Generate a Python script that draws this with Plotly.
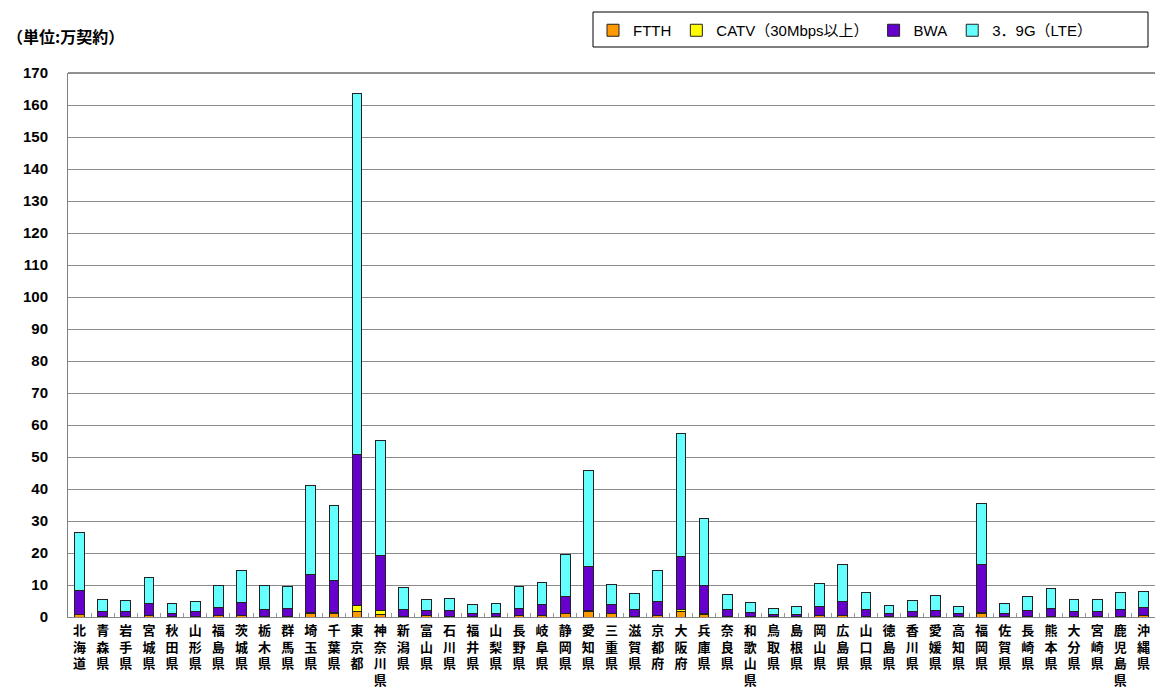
import plotly.graph_objects as go

prefectures = ["北海道", "青森県", "岩手県", "宮城県", "秋田県", "山形県", "福島県", "茨城県", "栃木県", "群馬県",
               "埼玉県", "千葉県", "東京都", "神奈川県", "新潟県", "富山県", "石川県", "福井県", "山梨県", "長野県",
               "岐阜県", "静岡県", "愛知県", "三重県", "滋賀県", "京都府", "大阪府", "兵庫県", "奈良県", "和歌山県",
               "鳥取県", "島根県", "岡山県", "広島県", "山口県", "徳島県", "香川県", "愛媛県", "高知県", "福岡県",
               "佐賀県", "長崎県", "熊本県", "大分県", "宮崎県", "鹿児島県", "沖縄県"]

ftth = [0.8, 0.2, 0.2, 0.4, 0.1, 0.2, 0.5, 0.6, 0.3, 0.3,
        1.2, 1.1, 1.6, 0.9, 0.3, 0.4, 0.3, 0.2, 0.2, 0.5,
        0.6, 1.0, 1.8, 1.1, 0.2, 0.4, 1.6, 0.9, 0.2, 0.2,
        0.1, 0.1, 0.4, 0.5, 0.2, 0.1, 0.2, 0.3, 0.1, 1.0,
        0.1, 0.2, 0.3, 0.2, 0.2, 0.3, 0.4]
catv = [0.1, 0.0, 0.0, 0.0, 0.0, 0.0, 0.0, 0.0, 0.0, 0.0,
        0.3, 0.3, 1.9, 1.2, 0.0, 0.0, 0.0, 0.0, 0.0, 0.0,
        0.0, 0.0, 0.2, 0.0, 0.0, 0.0, 0.8, 0.3, 0.0, 0.0,
        0.0, 0.0, 0.0, 0.0, 0.0, 0.0, 0.0, 0.0, 0.0, 0.5,
        0.0, 0.0, 0.0, 0.0, 0.0, 0.0, 0.0]
bwa = [7.5, 1.6, 1.4, 3.7, 1.0, 1.4, 2.6, 3.8, 2.2, 2.4,
       11.8, 10.1, 47.2, 17.2, 2.0, 1.5, 1.6, 0.9, 0.9, 2.3,
       3.2, 5.5, 13.8, 2.7, 2.0, 4.5, 16.6, 8.7, 2.1, 1.2,
       0.6, 0.7, 2.8, 4.5, 2.2, 0.9, 1.5, 1.8, 1.0, 14.9,
       1.0, 1.7, 2.4, 1.5, 1.6, 1.9, 2.5]
lte = [18.1, 3.7, 3.7, 8.4, 3.1, 3.2, 6.8, 10.0, 7.2, 6.9,
       27.7, 23.2, 112.8, 35.9, 7.0, 3.5, 3.9, 2.8, 3.0, 6.8,
       7.0, 13.1, 29.9, 6.3, 5.0, 9.7, 38.3, 20.9, 4.8, 3.2,
       2.0, 2.5, 7.2, 11.4, 5.2, 2.5, 3.5, 4.7, 2.3, 19.1,
       3.1, 4.6, 6.3, 3.7, 3.7, 5.6, 5.2]

series_names = ["FTTH", "CATV（30Mbps以上）", "BWA", "3．9G（LTE）"]
series_colors = ["#FF9900", "#FFFF00", "#6600CC", "#66FFFF"]

tick_text = ["<br>".join(list(p)) for p in prefectures]

fig = go.Figure()
for name, vals, col in zip(series_names, [ftth, catv, bwa, lte], series_colors):
    fig.add_trace(go.Bar(
        x=prefectures, y=vals, name=name,
        marker=dict(color=col, line=dict(color="#222222", width=1)),
    ))

W, H = 1155, 691
PL, PR, PT, PB = 68, 1155, 73, 617
PW, PH = PR - PL, PB - PT

fig.update_layout(
    width=W, height=H,
    barmode="stack", bargap=0.58,
    plot_bgcolor="white", paper_bgcolor="white",
    margin=dict(l=PL, r=W - PR, t=PT, b=H - PB),
    font=dict(family="Liberation Sans, Noto Sans CJK JP", color="black"),
    showlegend=True,
    legend=dict(
        orientation="h", xref="container", yref="container",
        x=593 / W, y=1 - 14 / H, xanchor="left", yanchor="top",
        font=dict(size=15, family="Liberation Sans, Noto Sans CJK JP"),
        bgcolor="rgba(0,0,0,0)", traceorder="normal",
    ),
    xaxis=dict(
        tickmode="array", tickvals=prefectures, ticktext=tick_text,
        tickangle=0, tickson="boundaries", ticks="inside", ticklen=4,
        tickcolor="#999999", showline=True, linecolor="#888888", linewidth=1,
        tickfont=dict(size=13, family="Noto Sans CJK JP", weight="bold"),
        ticklabelstandoff=1,
        automargin=False, showgrid=False,
    ),
    yaxis=dict(
        range=[0, 170], tickmode="linear", tick0=0, dtick=10,
        showgrid=True, gridcolor="#8c8c8c", gridwidth=1,
        showline=True, linecolor="#808080", linewidth=1,
        ticks="", tickfont=dict(size=15, family="Liberation Sans", weight="bold"),
        ticklabelstandoff=16, zeroline=False, automargin=False,
    ),
    annotations=[dict(
        text="（単位:万契約）", xref="paper", yref="paper",
        x=(5 - PL) / PW, y=(PB - 36) / PH, xanchor="left", yanchor="middle",
        showarrow=False, font=dict(size=16, family="Noto Sans CJK JP", weight="bold"),
    )],
    shapes=[
        dict(
            type="rect", xref="paper", yref="paper",
            x0=(593 - PL) / PW, x1=(1148 - PL) / PW,
            y0=(PB - 47) / PH, y1=(PB - 12) / PH,
            line=dict(color="black", width=1), fillcolor="rgba(0,0,0,0)",
        ),
        dict(
            type="line", xref="paper", yref="paper", x0=0, x1=1, y0=1, y1=1,
            line=dict(color="#222222", width=1), layer="below",
        ),
    ],
)

fig.write_html(
    "out.html",
    config={"displayModeBar": False},
    post_script="document.body.style.margin='0';document.body.style.overflow='hidden';",
)
